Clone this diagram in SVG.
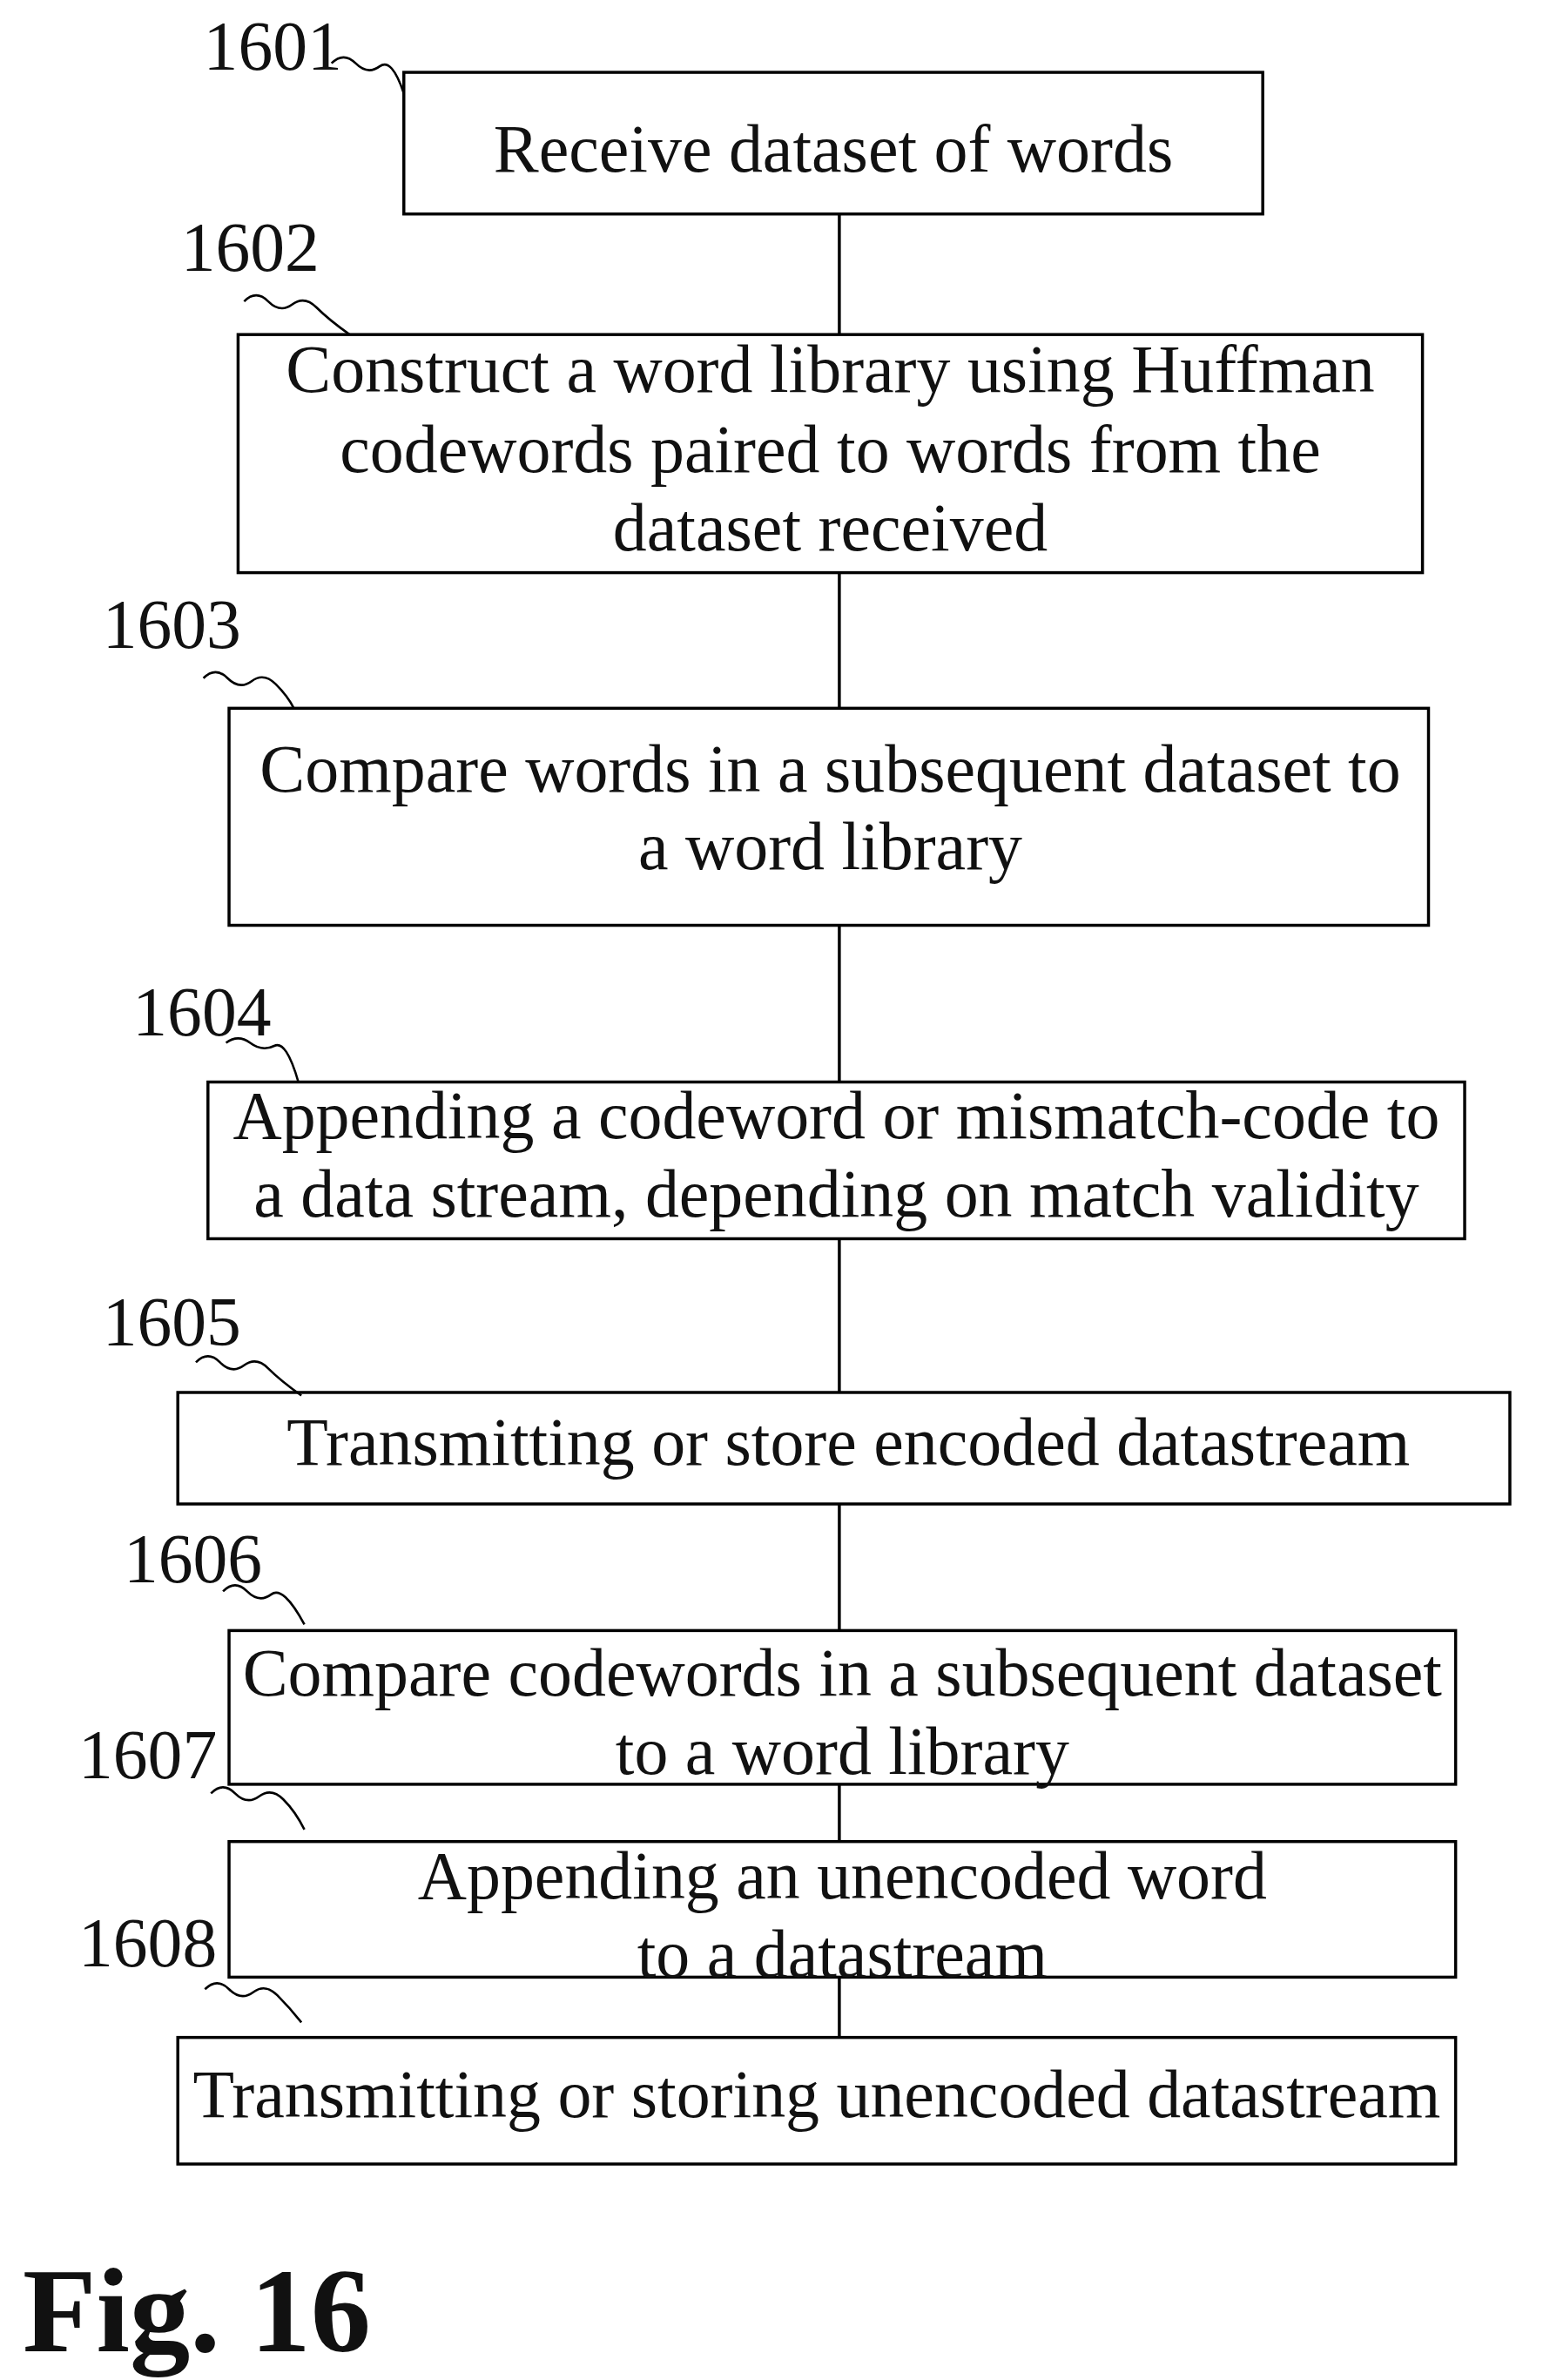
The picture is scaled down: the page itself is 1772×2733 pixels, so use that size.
<svg xmlns="http://www.w3.org/2000/svg" width="1772" height="2733" viewBox="0 0 1772 2733">
<style>
.b{fill:#fff;stroke:#000;stroke-width:2}
.t{font-family:"Liberation Serif",serif;font-size:45px;text-anchor:middle;fill:#111}
.l{font-family:"Liberation Serif",serif;font-size:46px;fill:#111}
.s{fill:none;stroke:#000;stroke-width:1.5}
.c{stroke:#000;stroke-width:2}
</style>
<rect width="1772" height="2733" fill="#fff"/>
<g transform="scale(1.7305)">
<g id="connectors">
<line class="c" x1="557" y1="142" x2="557" y2="222"/>
<line class="c" x1="557" y1="380" x2="557" y2="470"/>
<line class="c" x1="557" y1="614" x2="557" y2="718"/>
<line class="c" x1="557" y1="822" x2="557" y2="924"/>
<line class="c" x1="557" y1="998" x2="557" y2="1082"/>
<line class="c" x1="557" y1="1184" x2="557" y2="1222"/>
<line class="c" x1="557" y1="1312" x2="557" y2="1352"/>
</g>
<g id="n1601"><rect class="b" x="268" y="48" width="570" height="94"/><text class="t" x="553" y="114">Receive dataset of words</text>
<text class="l" x="135" y="46">1601</text><path class="s" d="M220,42 q8,-8 16,0 t16,2 t16,18"/></g>
<g id="n1602"><rect class="b" x="158" y="222" width="786" height="158"/>
<text class="t" x="551" y="260">Construct a word library using Huffman</text><text class="t" x="551" y="313">codewords paired to words from the</text><text class="t" x="551" y="365">dataset received</text>
<text class="l" x="120" y="180">1602</text><path class="s" d="M162,200 q8,-8 16,0 t16,2 t16,2 t22,18"/></g>
<g id="n1603"><rect class="b" x="152" y="470" width="796" height="144"/>
<text class="t" x="551" y="525">Compare words in a subsequent dataset to</text><text class="t" x="551" y="577">a word library</text>
<text class="l" x="68" y="430">1603</text><path class="s" d="M135,450 q8,-8 16,0 t16,2 t16,2 t12,16"/></g>
<g id="n1604"><rect class="b" x="138" y="718" width="834" height="104"/>
<text class="t" x="555" y="755">Appending a codeword or mismatch-code to</text><text class="t" x="555" y="807">a data stream, depending on match validity</text>
<text class="l" x="88" y="687">1604</text><path class="s" d="M150,692 q8,-6 16,0 t16,2 t16,24"/></g>
<g id="n1605"><rect class="b" x="118" y="924" width="884" height="74"/>
<text class="t" x="563" y="972">Transmitting or store encoded datastream</text>
<text class="l" x="68" y="893">1605</text><path class="s" d="M130,904 q8,-8 16,0 t16,2 t16,2 t22,18"/></g>
<g id="n1606"><rect class="b" x="152" y="1082" width="814" height="102"/>
<text class="t" x="559" y="1125">Compare codewords in a subsequent dataset</text><text class="t" x="559" y="1177">to a word library</text>
<text class="l" x="82" y="1050">1606</text><path class="s" d="M148,1056 q8,-8 16,0 t16,2 t22,20"/></g>
<g id="n1607"><rect class="b" x="152" y="1222" width="814" height="90"/>
<text class="t" x="559" y="1260">Appending an unencoded word</text><text class="t" x="559" y="1312">to a datastream</text>
<text class="l" x="52" y="1180">1607</text><path class="s" d="M140,1190 q8,-8 16,0 t16,2 t16,2 t14,20"/></g>
<g id="n1608"><rect class="b" x="118" y="1352" width="848" height="84"/>
<text class="t" x="542" y="1405">Transmitting or storing unencoded datastream</text>
<text class="l" x="52" y="1305">1608</text><path class="s" d="M136,1320 q8,-8 16,0 t16,2 t16,2 t16,18"/></g>
<text x="15" y="1560" style="font-family:'Liberation Serif',serif;font-size:80px;font-weight:bold;fill:#111">Fig. 16</text>
</g>
</svg>
